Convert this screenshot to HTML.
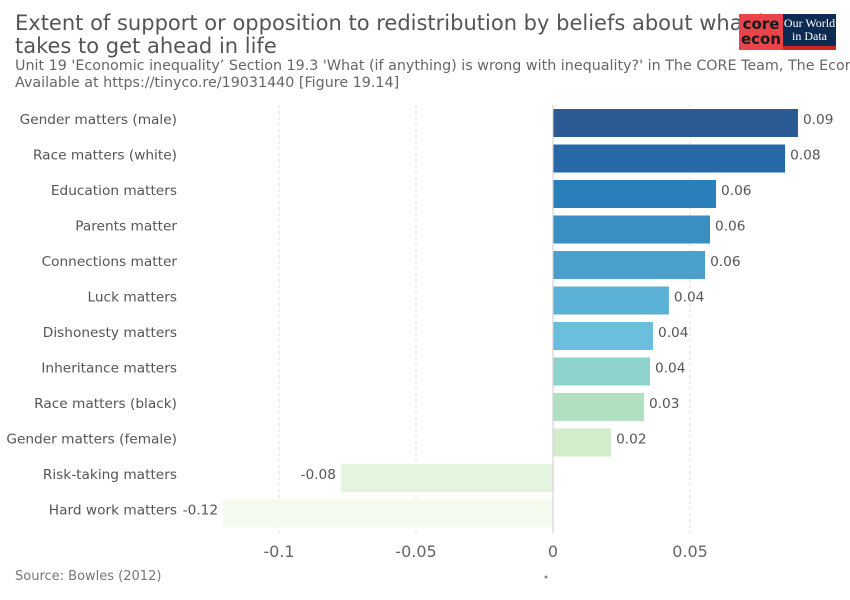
<!DOCTYPE html>
<html><head><meta charset="utf-8"><style>
body{margin:0;background:#fff;font-family:"DejaVu Sans","Liberation Sans",sans-serif;}
#wrap{position:relative;width:850px;height:600px;overflow:hidden;background:#fff}
.t{position:absolute;white-space:nowrap}
</style></head><body>
<div id="wrap">
<div class="t" style="left:15px;top:12px;font-size:21px;line-height:23px;color:#555">Extent of support or opposition to redistribution by beliefs about what it<br>takes to get ahead in life</div>
<div class="t" style="left:15px;top:58px;font-size:14.3px;line-height:17px;color:#666">Unit 19 'Economic inequality’ Section 19.3 'What (if anything) is wrong with inequality?' in The CORE Team, The Economy.<br>Available at https://tinyco.re/19031440 [Figure 19.14]</div>
<div style="position:absolute;left:739px;top:14px;width:44px;height:36px;background:#e8444a;color:#1a1a1a;font-weight:bold;font-size:15px;line-height:15px;text-align:center;padding-top:3px;box-sizing:border-box">core<br>econ</div>
<div style="position:absolute;left:783px;top:14px;width:53px;height:36px;background:#0d2b52;border-bottom:4px solid #ce261e;box-sizing:border-box;color:#fff;font-family:'Liberation Serif',serif;font-size:12px;line-height:13px;text-align:center;padding-top:3px">Our World<br>in Data</div>
<svg id="svg" width="850" height="600" style="position:absolute;left:0;top:0"></svg>
<div class="t" style="left:15px;top:569px;font-size:13px;color:#777">Source: Bowles (2012)</div>
</div>
<script>
const categories=["Gender matters (male)","Race matters (white)","Education matters","Parents matter","Connections matter","Luck matters","Dishonesty matters","Inheritance matters","Race matters (black)","Gender matters (female)","Risk-taking matters","Hard work matters"];
const values=[0.0894,0.0847,0.0595,0.0573,0.0555,0.0423,0.0365,0.0354,0.0332,0.0212,-0.0774,-0.1204];
const labels=["0.09","0.08","0.06","0.06","0.06","0.04","0.04","0.04","0.03","0.02","-0.08","-0.12"];
const ticks=[-0.1,-0.05,0,0.05];
const tickLabels=["-0.1","-0.05","0","0.05"];
const colors=["#2b5a94","#2768a6","#2b7fbb","#3a8fc4","#4a9fcc","#5bb1d5","#6bbfdc","#8dd3cb","#b1e0c0","#d1edcb","#e5f4de","#f5faee"];
const svg=document.getElementById('svg');const NS="http://www.w3.org/2000/svg";
const x=v=>553+v*2740;const y=i=>109+i*35.5;const bh=28;
function el(t,a){const e=document.createElementNS(NS,t);for(const k in a)e.setAttribute(k,a[k]);svg.appendChild(e);return e;}
ticks.forEach((t,i)=>{
 if(t!==0){const g=el('line',{x1:x(t),x2:x(t),y1:105,y2:533,stroke:'#ddd','stroke-dasharray':'3,3'});
 
 }
 const tx=el('text',{x:x(t),y:557,'font-size':16,fill:'#666','text-anchor':'middle'});tx.textContent=tickLabels[i];
 
 
});
categories.forEach((c,i)=>{
 const v=values[i];
 const r=el('rect',{x:Math.min(x(0),x(v)),y:y(i),width:Math.abs(x(v)-x(0)),height:bh,fill:colors[i]});
 
 
 const l=el('text',{x:177,y:y(i)+bh/2+1,'font-size':13.7,fill:'#555','text-anchor':'end'});l.textContent=c;
 
 
 const vl=el('text',{x:v>=0?x(v)+5:x(v)-5,y:y(i)+bh/2+1,'font-size':13.7,fill:'#555','text-anchor':v>=0?'start':'end'});vl.textContent=labels[i];
 
 
});
const z=el('line',{x1:x(0),x2:x(0),y1:105,y2:533,stroke:'#ccc'});


const d=el('circle',{cx:546,cy:577,r:1.5,fill:'#888'});


</script>
</body></html>
